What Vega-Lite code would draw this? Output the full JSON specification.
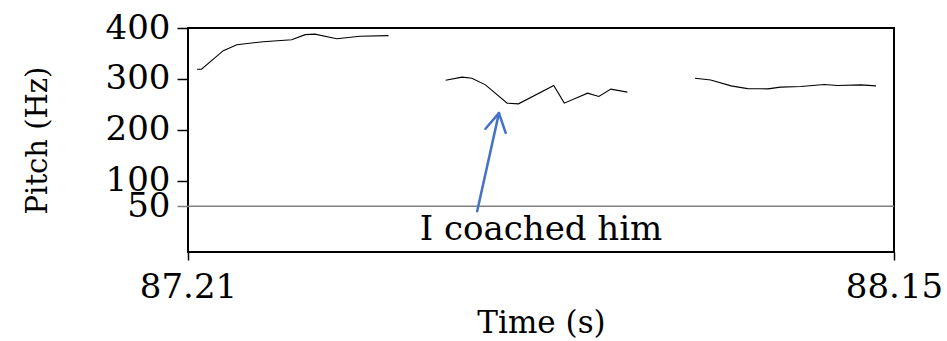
{
  "$schema": "https://vega.github.io/schema/vega-lite/v6.json",
  "width": 706,
  "height": 224,
  "autosize": {"type": "none"},
  "padding": {"left": 188, "top": 28, "right": 53, "bottom": 89},
  "background": "white",
  "config": {
    "view": {"stroke": "black", "strokeWidth": 2},
    "font": "DejaVu Serif",
    "axis": {
      "labelFont": "DejaVu Serif",
      "titleFont": "DejaVu Serif",
      "labelColor": "black",
      "titleColor": "black",
      "labelFontSize": 34,
      "titleFontWeight": "normal",
      "labelOverlap": false,
      "grid": false,
      "domain": false,
      "tickColor": "black",
      "tickWidth": 1.5
    }
  },
  "datasets": {
    "pitch": [
      {"time": 87.222, "hz": 319, "seg": "a"},
      {"time": 87.228, "hz": 319, "seg": "a"},
      {"time": 87.257, "hz": 355.5, "seg": "a"},
      {"time": 87.275, "hz": 367, "seg": "a"},
      {"time": 87.310, "hz": 373, "seg": "a"},
      {"time": 87.348, "hz": 377, "seg": "a"},
      {"time": 87.366, "hz": 387, "seg": "a"},
      {"time": 87.379, "hz": 388, "seg": "a"},
      {"time": 87.408, "hz": 379, "seg": "a"},
      {"time": 87.439, "hz": 383.7, "seg": "a"},
      {"time": 87.477, "hz": 385, "seg": "a"},
      {"time": 87.553, "hz": 297.5, "seg": "b"},
      {"time": 87.575, "hz": 303.4, "seg": "b"},
      {"time": 87.588, "hz": 301.4, "seg": "b"},
      {"time": 87.606, "hz": 288.3, "seg": "b"},
      {"time": 87.635, "hz": 252.4, "seg": "b"},
      {"time": 87.650, "hz": 251, "seg": "b"},
      {"time": 87.697, "hz": 286.9, "seg": "b"},
      {"time": 87.711, "hz": 252.4, "seg": "b"},
      {"time": 87.742, "hz": 272, "seg": "b"},
      {"time": 87.757, "hz": 265.4, "seg": "b"},
      {"time": 87.773, "hz": 279.9, "seg": "b"},
      {"time": 87.795, "hz": 274, "seg": "b"},
      {"time": 87.885, "hz": 301.4, "seg": "c"},
      {"time": 87.906, "hz": 298, "seg": "c"},
      {"time": 87.933, "hz": 286.3, "seg": "c"},
      {"time": 87.955, "hz": 281, "seg": "c"},
      {"time": 87.982, "hz": 280.5, "seg": "c"},
      {"time": 87.999, "hz": 283.8, "seg": "c"},
      {"time": 88.026, "hz": 285, "seg": "c"},
      {"time": 88.057, "hz": 288.9, "seg": "c"},
      {"time": 88.075, "hz": 287, "seg": "c"},
      {"time": 88.106, "hz": 288.3, "seg": "c"},
      {"time": 88.126, "hz": 286.3, "seg": "c"}
    ],
    "arrow": [
      {"t1": 87.595, "h1": 40, "t2": 87.624, "h2": 232.8},
      {"t1": 87.606, "h1": 202, "t2": 87.624, "h2": 232.8},
      {"t1": 87.633, "h1": 194, "t2": 87.624, "h2": 232.8}
    ],
    "floor": [{"hz": 50}],
    "label": [{"time": 87.68, "hz": -16.5, "text": "I coached him"}]
  },
  "layer": [
    {
      "data": {"name": "floor"},
      "mark": {"type": "rule", "color": "#808080", "strokeWidth": 1.5},
      "encoding": {
        "y": {
          "field": "hz",
          "type": "quantitative",
          "scale": {"domain": [-40, 400], "nice": false, "zero": false},
          "axis": {
            "values": [50, 100, 200, 300, 400],
            "tickSize": 11,
            "labelPadding": 7,
            "titleFontSize": 29,
            "titlePadding": 53,
            "tickColor": {"condition": {"test": "datum.value == 50", "value": "#808080"}, "value": "black"}
          },
          "title": "Pitch (Hz)"
        }
      }
    },
    {
      "data": {"name": "pitch"},
      "mark": {"type": "line", "color": "black", "strokeWidth": 1.1, "interpolate": "linear"},
      "encoding": {
        "x": {
          "field": "time",
          "type": "quantitative",
          "scale": {"domain": [87.21, 88.15], "nice": false, "zero": false},
          "axis": {
            "values": [87.21, 88.15],
            "format": ".2f",
            "tickSize": 8,
            "labelPadding": 10,
            "titleFontSize": 31,
            "titlePadding": 4,
            "labelFlush": false
          },
          "title": "Time (s)"
        },
        "y": {"field": "hz", "type": "quantitative"},
        "detail": {"field": "seg"},
        "order": {"field": "time", "type": "quantitative"}
      }
    },
    {
      "data": {"name": "arrow"},
      "mark": {"type": "rule", "color": "#4472C4", "strokeWidth": 2.5, "strokeCap": "round"},
      "encoding": {
        "x": {"field": "t1", "type": "quantitative"},
        "y": {"field": "h1", "type": "quantitative"},
        "x2": {"field": "t2"},
        "y2": {"field": "h2"}
      }
    },
    {
      "data": {"name": "label"},
      "mark": {"type": "text", "font": "DejaVu Serif", "fontSize": 34, "align": "center", "baseline": "alphabetic", "color": "black"},
      "encoding": {
        "x": {"field": "time", "type": "quantitative"},
        "y": {"field": "hz", "type": "quantitative"},
        "text": {"field": "text"}
      }
    }
  ]
}
